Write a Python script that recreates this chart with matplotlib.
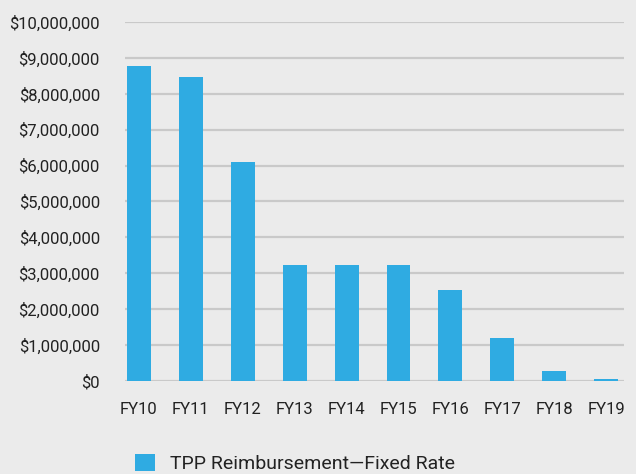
import matplotlib
matplotlib.use("Agg")
import matplotlib.pyplot as plt
from matplotlib.ticker import FuncFormatter, MultipleLocator

categories = ["FY10", "FY11", "FY12", "FY13", "FY14", "FY15", "FY16", "FY17", "FY18", "FY19"]
values = [8770000, 8470000, 6100000, 3230000, 3230000, 3230000, 2530000, 1200000, 290000, 60000]
series_name = "TPP Reimbursement\u2014Fixed Rate"

plt.rcParams['font.family'] = ['Roboto', 'DejaVu Sans']
bg = "#ebebeb"
bar_color = "#2fabe2"
text_color = "#222222"

fig = plt.figure(figsize=(6.36, 4.74), dpi=100, facecolor=bg)
ax = fig.add_axes([0.1965, 0.1962, 0.785, 0.7574], facecolor=bg)

x = list(range(len(categories)))
ax.bar(x, values, width=0.46, color=bar_color, label=series_name, zorder=3)

ax.set_xlim(-0.27, 9.35)
ax.set_ylim(0, 10000000)
ax.yaxis.set_major_locator(MultipleLocator(1000000))
ax.yaxis.set_major_formatter(FuncFormatter(lambda v, p: "${:,.0f}".format(v)))
ax.set_xticks(x)
ax.set_xticklabels(categories)

ax.grid(axis="y", color="#c9c9c9", linewidth=1.6, zorder=0)
ax.set_axisbelow(True)
for s in ax.spines.values():
    s.set_visible(False)
ax.tick_params(axis="both", length=0, labelsize=12, colors=text_color)
ax.tick_params(axis="y", pad=18)
ax.tick_params(axis="x", pad=15)

leg = fig.legend(loc="center left", bbox_to_anchor=(0.213, 0.022), frameon=False,
                 fontsize=14, handlelength=1.0, handleheight=1.0, handletextpad=0.8,
                 borderaxespad=0, borderpad=0)
for t in leg.get_texts():
    t.set_color(text_color)

fig.savefig("out.png", dpi=100, facecolor=bg)
